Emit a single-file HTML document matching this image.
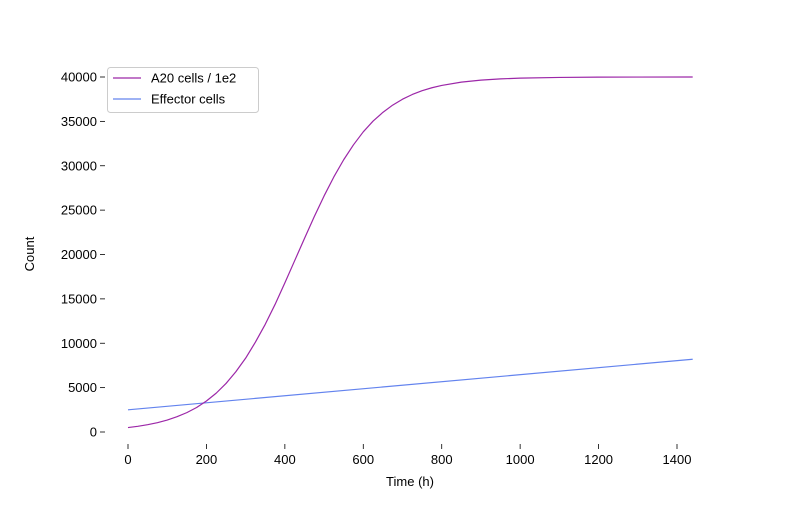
<!DOCTYPE html>
<html><head><meta charset="utf-8"><style>
body{margin:0;background:#fff;}
svg text{font-family:"Liberation Sans","DejaVu Sans",sans-serif;font-size:13px;fill:#000;}
</style></head><body>
<svg id="chart" width="800" height="500" viewBox="0 0 800 500">
<g id="axes"></g>
<g id="series"></g>
<g>
<rect x="107.5" y="67.5" width="151" height="45" rx="3" fill="#fff" fill-opacity="0.8" stroke="#ccc"/>
<line x1="113" y1="78" x2="141" y2="78" stroke="#9c27a8" stroke-width="1.2"/>
<text x="151" y="82.5">A20 cells / 1e2</text>
<line x1="113" y1="99" x2="141" y2="99" stroke="#6383ee" stroke-width="1.2"/>
<text x="151" y="103.5">Effector cells</text>
</g>
<text x="410" y="486" text-anchor="middle">Time (h)</text>
<text x="34" y="254" text-anchor="middle" transform="rotate(-90 34 254)">Count</text>
</svg>
<script>
const xTicks=[0,200,400,600,800,1000,1200,1400];
const yTicks=[0,5000,10000,15000,20000,25000,30000,35000,40000];
const a20Times=[0,25,50,75,100,125,150,175,200,225,250,275,300,325,350,375,400,425,450,475,500,525,550,575,600,625,650,675,700,725,750,775,800,850,900,950,1000,1100,1200,1300,1440];
const a20Values=[500,641,822,1054,1346,1719,2183,2764,3496,4380,5472,6789,8323,10130,12136,14373,16800,19304,21798,24265,26596,28749,30675,32360,33824,35032,36016,36836,37498,38030,38454,38790,39051,39422,39649,39788,39872,39953,39983,39994,39999];
const effTimes=[0,1440];
const effValues=[2500,8200];
const NS="http://www.w3.org/2000/svg";
function xs(v){return 128+v*(549/1400);}
function ys(v){return 432-v*(355/40000);}
const axes=document.getElementById('axes');
const ser=document.getElementById('series');
function mk(t,a,p){const e=document.createElementNS(NS,t);for(const k in a)e.setAttribute(k,a[k]);p.appendChild(e);return e;}
xTicks.forEach(t=>{
 const l=mk('line',{x1:xs(t),x2:xs(t),y1:444,y2:449,stroke:'#000','stroke-width':0.8},axes);
 
 
 const tx=mk('text',{x:xs(t),y:464,'text-anchor':'middle'},axes);tx.textContent=t;
 
 
});
yTicks.forEach(t=>{
 const l=mk('line',{x1:100,x2:105,y1:ys(t),y2:ys(t),stroke:'#000','stroke-width':0.8},axes);
 
 
 const tx=mk('text',{x:97,y:ys(t)+4.5,'text-anchor':'end'},axes);tx.textContent=t;
 
 
});
function line(ts,vs,color,name){
 const d=ts.map((t,i)=>(i?'L':'M')+xs(t).toFixed(2)+','+ys(vs[i]).toFixed(2)).join(' ');
 const p=mk('path',{d:d,fill:'none',stroke:color,'stroke-width':1.2,'stroke-linejoin':'round'},ser);
 
 
}
line(effTimes,effValues,'#6383ee','effector-line');
line(a20Times,a20Values,'#9c27a8','a20-line');
</script>
</body></html>
